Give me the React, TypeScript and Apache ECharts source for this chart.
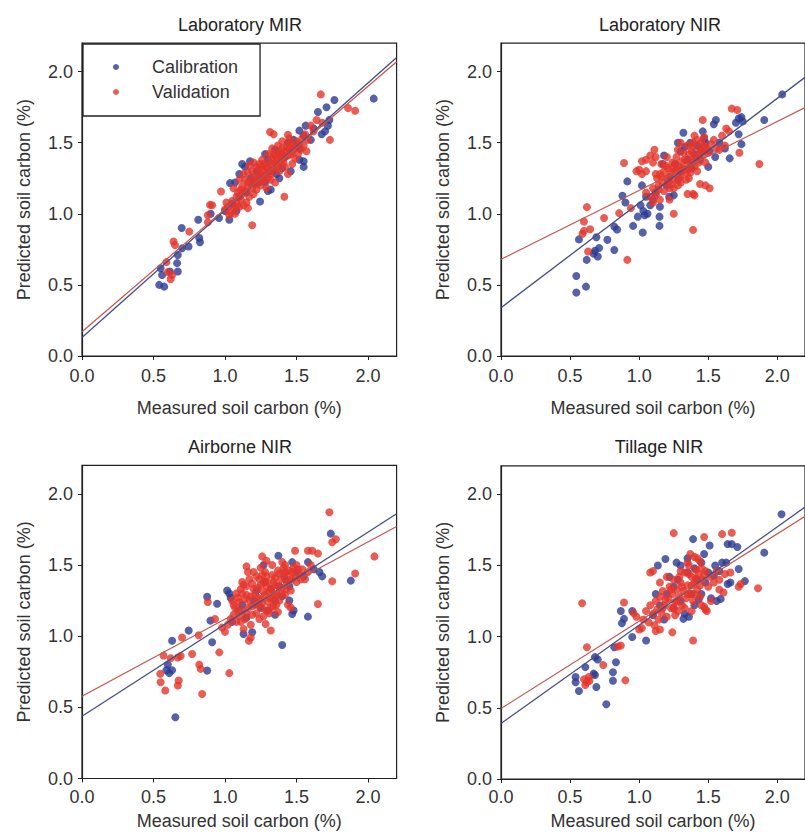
import React, { useEffect, useRef } from "react";
import * as echarts from "echarts";

const panelTitles = ["Laboratory MIR", "Laboratory NIR", "Airborne NIR", "Tillage NIR"];
const tickValues = [0, 0.5, 1.0, 1.5, 2.0];
const xAxisName = "Measured soil carbon (%)";
const yAxisName = "Predicted soil carbon (%)";
const seriesNames = ["Calibration", "Validation"];

// regression lines: [y at x=0, y at x=2.2]
const calibFit = [[0.13, 2.1], [0.34, 1.96], [0.437, 1.86], [0.39, 1.91]];
const validFit = [[0.17, 2.07], [0.68, 1.747], [0.578, 1.77], [0.495, 1.845]];

const calib1 = [
  [2.04, 1.81], [1.765, 1.8], [1.71, 1.75], [1.65, 1.716], [1.72, 1.62], [1.7, 1.58], [1.73, 1.66],
  [1.564, 1.62], [1.52, 1.585], [1.676, 1.56], [1.62, 1.6], [1.55, 1.37], [1.55, 1.33], [1.52, 1.38],
  [1.46, 1.3], [1.6, 1.52], [1.55, 1.55], [1.5, 1.48], [1.48, 1.52], [1.45, 1.45], [1.42, 1.4],
  [1.4, 1.32], [1.38, 1.25], [1.36, 1.28], [1.32, 1.17], [1.3, 1.16], [1.28, 1.22], [1.23, 1.216],
  [1.245, 1.087], [1.35, 1.45], [1.3, 1.38], [1.28, 1.42], [1.22, 1.3], [1.2, 1.22], [1.175, 1.37],
  [1.14, 1.33], [1.12, 1.35], [1.1, 1.28], [1.15, 1.15], [1.1, 1.12], [1.035, 1.216], [1.05, 1.07],
  [1.08, 1.02], [1.07, 1.22], [1.03, 0.958], [1.0, 1.02], [0.958, 0.97], [0.9, 1.0], [0.813, 0.958],
  [0.82, 0.83], [0.825, 0.8], [0.745, 0.77], [0.697, 0.9], [0.7, 0.757], [0.67, 0.71], [0.665, 0.653],
  [0.67, 0.594], [0.55, 0.617], [0.56, 0.57], [0.54, 0.5], [0.575, 0.488], [0.615, 0.594], [1.4, 1.42],
  [1.44, 1.5], [1.52, 1.46], [1.33, 1.3], [1.18, 1.25], [1.24, 1.26]
];
const valid1 = [
  [1.67, 1.84], [1.86, 1.744], [1.91, 1.725], [1.734, 1.52], [1.315, 1.575], [1.34, 1.56], [1.415, 1.12],
  [1.19, 0.92], [0.972, 1.157], [0.895, 1.063], [0.91, 1.06], [0.88, 0.99], [0.88, 0.94], [0.75, 0.875],
  [0.64, 0.805], [0.65, 0.78], [0.59, 0.66], [0.6, 0.59], [0.62, 0.54], [0.63, 0.57], [1.16, 1.04],
  [1.44, 1.556], [1.57, 1.44], [1.6, 1.62], [1.64, 1.66], [1.68, 1.64], [1.62, 1.58],
  [1.0, 1.03], [1.02, 1.05], [1.04, 1.01], [1.06, 1.04], [1.08, 1.08], [1.1, 1.05], [1.11, 1.1],
  [1.09, 1.15], [1.12, 1.19], [1.14, 1.24], [1.13, 1.28], [1.16, 1.29], [1.18, 1.22], [1.2, 1.26],
  [1.22, 1.33], [1.24, 1.29], [1.26, 1.31], [1.28, 1.34], [1.3, 1.32], [1.31, 1.36], [1.33, 1.39],
  [1.35, 1.41], [1.36, 1.35], [1.38, 1.43], [1.4, 1.46], [1.41, 1.39], [1.43, 1.44], [1.45, 1.49],
  [1.46, 1.42], [1.48, 1.46], [1.5, 1.51], [1.52, 1.49], [1.54, 1.53], [1.56, 1.56], [1.3, 1.25],
  [1.32, 1.28], [1.34, 1.31], [1.37, 1.33], [1.39, 1.37], [1.27, 1.23], [1.25, 1.2], [1.22, 1.17],
  [1.2, 1.14], [1.17, 1.12], [1.15, 1.08], [1.13, 1.06], [1.03, 0.99], [1.07, 1.0], [1.26, 1.38],
  [1.2, 1.36], [1.17, 1.34], [1.1, 1.24], [1.06, 1.18], [1.08, 1.12], [1.44, 1.28], [1.47, 1.35],
  [1.51, 1.42], [1.42, 1.33], [1.35, 1.22], [1.29, 1.18], [1.23, 1.23], [1.28, 1.27], [1.33, 1.34],
  [1.36, 1.38], [1.39, 1.4], [1.41, 1.36], [1.44, 1.41], [1.47, 1.44], [1.49, 1.39], [1.19, 1.18],
  [1.16, 1.19], [1.12, 1.14], [1.24, 1.35], [1.3, 1.42], [1.33, 1.46], [1.37, 1.48], [1.4, 1.51],
  [1.45, 1.53], [1.38, 1.3], [1.32, 1.24], [1.26, 1.26], [1.21, 1.21], [1.14, 1.16], [1.05, 1.09],
  [1.01, 1.08], [1.55, 1.48], [1.58, 1.52], [1.53, 1.45], [1.11, 1.17], [1.19, 1.3], [1.23, 1.26],
  [1.27, 1.35], [1.31, 1.3], [1.35, 1.36], [1.39, 1.44], [1.43, 1.47], [1.47, 1.48], [1.29, 1.29],
  [1.34, 1.42], [1.4, 1.41], [1.25, 1.33], [1.16, 1.22], [1.08, 1.05]
];

const calib2 = [
  [2.035, 1.84], [1.905, 1.66], [1.72, 1.67], [1.75, 1.65], [1.7, 1.64], [1.74, 1.68], [1.74, 1.49],
  [1.72, 1.56], [1.655, 1.39], [1.555, 1.66], [1.54, 1.63], [1.32, 1.57], [1.47, 1.53], [1.51, 1.44],
  [1.55, 1.4], [1.5, 1.33], [1.33, 1.47], [1.37, 1.5], [0.914, 1.228], [0.879, 1.127], [0.9, 1.08],
  [1.01, 1.06], [1.03, 1.02], [1.06, 1.0], [1.04, 0.99], [1.02, 1.2], [1.147, 0.98], [1.147, 0.915],
  [1.026, 0.868], [0.956, 0.915], [0.82, 0.91], [0.84, 0.89], [0.77, 0.817], [0.82, 0.746], [0.69, 0.835],
  [0.71, 0.76], [0.68, 0.74], [0.7, 0.7], [0.67, 0.72], [0.62, 0.676], [0.564, 0.82], [0.545, 0.563],
  [0.615, 0.488], [0.545, 0.446], [1.217, 1.12], [1.25, 1.13], [1.17, 1.35], [1.18, 1.41], [1.08, 1.06],
  [1.1, 1.1], [1.12, 1.15], [1.2, 1.2], [1.28, 1.24], [1.3, 1.3], [1.35, 1.38], [1.4, 1.42],
  [1.42, 1.48], [1.45, 1.45], [1.48, 1.5], [1.58, 1.5], [1.62, 1.46], [1.26, 1.35], [1.22, 1.26],
  [1.38, 1.32], [1.44, 1.38], [1.15, 1.05], [1.05, 1.12], [0.99, 0.98], [1.3, 1.44], [1.46, 1.58],
  [1.28, 1.5]
];
const valid2 = [
  [1.67, 1.74], [1.71, 1.73], [1.87, 1.35], [1.725, 1.43], [1.46, 1.66], [1.63, 1.6], [1.65, 1.58],
  [1.6, 1.55], [1.58, 1.45], [1.62, 1.48], [1.51, 1.18], [1.48, 1.2], [1.44, 1.21], [1.39, 1.14],
  [1.35, 1.14], [1.4, 1.13], [1.39, 0.887], [1.25, 1.0], [0.89, 1.357], [0.914, 0.676], [0.94, 1.04],
  [0.855, 1.005], [0.746, 0.97], [0.622, 1.047], [0.6, 0.946], [0.645, 0.892], [0.59, 0.86], [0.6, 0.88],
  [0.63, 0.735], [0.98, 1.3], [1.0, 1.31], [1.02, 1.28], [1.02, 1.37], [1.05, 1.38], [1.08, 1.41],
  [1.11, 1.45], [1.1, 1.36], [1.12, 1.4], [1.05, 1.15], [1.08, 1.12], [1.1, 1.18], [1.12, 1.13],
  [1.14, 1.2], [1.13, 1.25], [1.15, 1.28], [1.17, 1.22], [1.18, 1.16], [1.2, 1.25], [1.21, 1.32],
  [1.22, 1.18], [1.23, 1.28], [1.24, 1.36], [1.25, 1.24], [1.26, 1.3], [1.27, 1.4], [1.28, 1.2],
  [1.29, 1.33], [1.3, 1.27], [1.31, 1.37], [1.32, 1.43], [1.33, 1.31], [1.34, 1.24], [1.35, 1.35],
  [1.36, 1.42], [1.37, 1.29], [1.38, 1.38], [1.39, 1.47], [1.4, 1.33], [1.41, 1.4], [1.42, 1.52],
  [1.43, 1.36], [1.44, 1.45], [1.45, 1.5], [1.46, 1.41], [1.48, 1.47], [1.5, 1.43], [1.52, 1.49],
  [1.54, 1.52], [1.56, 1.46], [1.18, 1.3], [1.16, 1.35], [1.2, 1.4], [1.28, 1.45], [1.3, 1.5],
  [1.35, 1.48], [1.25, 1.18], [1.22, 1.1], [1.15, 1.1], [1.1, 1.08], [1.3, 1.22], [1.36, 1.25],
  [1.42, 1.3], [1.48, 1.36], [1.05, 1.3], [1.12, 1.28], [1.4, 1.55], [1.47, 1.54], [1.16, 1.26],
  [1.19, 1.34], [1.23, 1.21], [1.26, 1.35], [1.29, 1.25], [1.31, 1.32], [1.33, 1.38], [1.36, 1.32],
  [1.38, 1.44], [1.4, 1.37], [1.43, 1.41], [1.45, 1.44], [1.47, 1.48], [1.49, 1.45], [1.34, 1.29],
  [1.27, 1.31], [1.21, 1.22], [1.14, 1.17], [1.24, 1.32], [1.39, 1.5]
];

const calib3 = [
  [0.653, 0.43], [1.74, 1.72], [1.88, 1.39], [1.66, 1.45], [1.68, 1.42], [1.58, 1.52], [1.47, 1.52],
  [1.373, 1.565], [1.27, 1.5], [1.015, 1.32], [1.03, 1.3], [1.04, 1.27], [0.875, 1.277], [0.945, 1.228],
  [0.898, 1.109], [0.746, 1.039], [0.63, 0.968], [0.91, 0.957], [1.13, 1.015], [1.19, 1.027], [1.4, 0.938],
  [1.58, 1.137], [1.47, 1.155], [1.48, 1.18], [0.875, 0.758], [0.6, 0.8], [0.61, 0.74], [0.63, 0.76],
  [0.59, 0.76], [1.2, 1.25], [1.25, 1.2], [1.3, 1.18], [1.35, 1.25], [1.42, 1.4], [1.38, 1.35],
  [1.32, 1.33], [1.15, 1.13], [1.1, 1.18], [1.05, 1.1], [1.45, 1.35], [1.55, 1.42], [1.5, 1.45],
  [1.62, 1.47], [1.28, 1.38], [1.22, 1.32], [1.12, 1.22], [1.4, 1.28], [1.35, 1.15], [1.45, 1.25]
];
const valid3 = [
  [1.73, 1.87], [2.045, 1.56], [1.91, 1.44], [1.775, 1.68], [1.75, 1.66], [1.75, 1.385], [1.65, 1.226],
  [1.49, 1.6], [1.58, 1.6], [1.61, 1.6], [1.65, 1.58], [1.26, 1.56], [1.29, 1.53], [1.15, 1.49],
  [1.03, 0.74], [0.84, 0.594], [0.82, 0.8], [0.83, 0.77], [0.7, 0.99], [0.77, 0.875], [0.816, 1.006],
  [0.96, 0.886], [0.57, 0.863], [0.547, 0.735], [0.55, 0.676], [0.582, 0.618], [0.676, 0.688],
  [0.67, 0.653], [0.62, 0.845], [0.67, 0.85], [0.69, 0.86], [1.167, 0.968], [1.18, 0.99], [1.32, 1.04],
  [1.284, 1.085], [1.46, 1.2], [1.44, 1.22], [0.88, 1.24], [0.93, 1.12], [0.98, 1.06], [1.0, 1.03],
  [1.02, 1.08], [1.04, 1.12], [1.06, 1.15], [1.08, 1.1], [1.07, 1.2], [1.1, 1.14], [1.1, 1.24],
  [1.12, 1.18], [1.12, 1.3], [1.14, 1.12], [1.14, 1.26], [1.15, 1.35], [1.16, 1.2], [1.17, 1.4],
  [1.18, 1.28], [1.19, 1.15], [1.2, 1.33], [1.21, 1.22], [1.22, 1.42], [1.23, 1.27], [1.24, 1.12],
  [1.25, 1.36], [1.26, 1.24], [1.27, 1.31], [1.28, 1.45], [1.29, 1.18], [1.3, 1.38], [1.31, 1.27],
  [1.32, 1.33], [1.33, 1.43], [1.34, 1.21], [1.35, 1.36], [1.36, 1.3], [1.37, 1.46], [1.38, 1.25],
  [1.39, 1.4], [1.4, 1.34], [1.41, 1.48], [1.42, 1.29], [1.43, 1.38], [1.44, 1.44], [1.46, 1.32],
  [1.47, 1.4], [1.48, 1.48], [1.5, 1.38], [1.52, 1.43], [1.54, 1.47], [1.56, 1.4], [1.58, 1.45],
  [1.6, 1.5], [1.13, 1.05], [1.18, 1.08], [1.22, 1.16], [1.27, 1.14], [1.32, 1.2], [1.37, 1.17],
  [1.2, 1.45], [1.25, 1.48], [1.33, 1.5], [1.4, 1.52], [1.12, 1.38], [1.08, 1.3], [1.05, 1.25],
  [1.16, 1.45], [1.24, 1.4], [1.3, 1.24], [1.35, 1.28], [1.26, 1.2], [1.29, 1.35], [1.45, 1.46],
  [1.5, 1.5], [1.42, 1.5], [1.06, 1.22], [1.09, 1.27], [1.11, 1.33], [1.13, 1.36], [1.15, 1.16],
  [1.17, 1.25], [1.19, 1.37], [1.21, 1.29], [1.23, 1.34], [1.25, 1.26], [1.27, 1.38], [1.29, 1.42],
  [1.31, 1.31], [1.33, 1.26], [1.35, 1.41], [1.37, 1.35], [1.39, 1.3], [1.41, 1.43], [1.43, 1.33],
  [1.45, 1.39], [1.47, 1.45], [1.49, 1.42], [1.51, 1.47], [1.53, 1.4], [1.23, 1.22], [1.19, 1.21],
  [1.15, 1.29], [1.28, 1.29], [1.34, 1.38], [1.38, 1.44], [1.42, 1.45], [1.26, 1.43], [1.36, 1.22],
  [1.31, 1.16], [1.11, 1.1], [1.09, 1.18]
];

const calib4 = [
  [2.03, 1.86], [1.905, 1.59], [1.64, 1.65], [1.67, 1.65], [1.71, 1.63], [1.51, 1.64], [1.39, 1.685],
  [1.55, 1.5], [1.58, 1.46], [1.54, 1.43], [1.63, 1.52], [1.72, 1.475], [1.64, 1.37], [1.66, 1.38],
  [1.765, 1.39], [1.19, 1.545], [1.135, 1.5], [1.59, 1.265], [1.56, 1.25], [1.52, 1.27], [1.33, 1.16],
  [1.32, 1.125], [1.36, 1.14], [1.05, 0.973], [0.95, 0.997], [0.89, 1.125], [0.875, 1.094], [0.867, 1.18],
  [0.82, 0.926], [0.832, 0.82], [0.81, 0.75], [0.81, 0.69], [0.762, 0.525], [0.69, 0.646], [0.68, 0.856],
  [0.7, 0.84], [0.67, 0.74], [0.68, 0.73], [0.61, 0.786], [0.54, 0.716], [0.54, 0.68], [0.564, 0.618],
  [0.95, 1.18], [1.2, 1.3], [1.25, 1.35], [1.28, 1.4], [1.22, 1.42], [1.3, 1.5], [1.35, 1.45],
  [1.4, 1.48], [1.45, 1.52], [1.42, 1.4], [1.48, 1.38], [1.38, 1.3], [1.3, 1.25], [1.25, 1.2],
  [1.15, 1.22], [1.1, 1.15], [1.18, 1.12], [1.4, 1.22], [1.45, 1.3], [1.5, 1.45], [1.47, 1.58],
  [1.27, 1.52], [1.35, 1.55], [1.12, 1.3], [1.6, 1.52], [1.43, 1.26]
];
const valid4 = [
  [1.25, 1.727], [1.47, 1.7], [1.6, 1.72], [1.67, 1.73], [1.86, 1.34], [1.735, 1.37], [1.72, 1.35],
  [0.587, 1.235], [0.622, 0.926], [0.74, 0.8], [0.9, 0.693], [0.867, 0.938], [0.845, 0.93], [0.6, 0.7],
  [0.62, 0.68], [0.635, 0.716], [0.61, 0.66], [0.64, 0.69], [0.89, 1.24], [1.39, 0.973], [1.24, 1.03],
  [1.12, 1.04], [1.15, 1.05], [1.08, 1.45], [1.1, 1.46], [1.37, 1.58], [1.4, 1.56], [1.44, 1.53],
  [1.47, 1.21], [1.48, 1.19], [1.49, 1.18], [1.58, 1.33], [1.61, 1.31], [1.66, 1.45], [0.98, 1.14],
  [0.96, 1.165], [1.0, 1.05], [1.02, 1.06], [1.03, 1.12], [1.05, 1.18], [1.07, 1.1], [1.08, 1.22],
  [1.1, 1.16], [1.11, 1.08], [1.12, 1.25], [1.13, 1.19], [1.14, 1.12], [1.15, 1.28], [1.16, 1.17],
  [1.17, 1.32], [1.18, 1.22], [1.2, 1.14], [1.21, 1.27], [1.22, 1.35], [1.23, 1.2], [1.24, 1.3],
  [1.25, 1.4], [1.26, 1.24], [1.27, 1.33], [1.28, 1.18], [1.29, 1.28], [1.3, 1.38], [1.31, 1.22],
  [1.32, 1.32], [1.33, 1.45], [1.34, 1.27], [1.35, 1.36], [1.36, 1.5], [1.37, 1.3], [1.38, 1.42],
  [1.39, 1.25], [1.4, 1.38], [1.41, 1.47], [1.42, 1.33], [1.43, 1.44], [1.44, 1.28], [1.46, 1.4],
  [1.48, 1.46], [1.5, 1.35], [1.52, 1.42], [1.54, 1.38], [1.56, 1.46], [1.58, 1.4], [1.62, 1.44],
  [1.15, 1.38], [1.2, 1.42], [1.3, 1.46], [1.35, 1.52], [1.42, 1.55], [1.45, 1.48], [1.26, 1.15],
  [1.33, 1.2], [1.38, 1.18], [1.45, 1.22], [1.52, 1.25], [1.19, 1.26], [1.23, 1.33], [1.27, 1.25],
  [1.31, 1.35], [1.35, 1.3], [1.38, 1.36], [1.41, 1.41], [1.44, 1.36], [1.47, 1.43], [1.29, 1.42],
  [1.25, 1.2], [1.17, 1.2], [1.4, 1.3], [1.36, 1.44]
];

const calibData = [calib1, calib2, calib3, calib4];
const validData = [valid1, valid2, valid3, valid4];

const FONT = '"Liberation Sans", Arial, Helvetica, sans-serif';
const BLUE = "#2b3a92";
const RED = "#e5342b";
const BLUE_LINE = "#444d88";
const RED_LINE = "#c4544c";
const TEXT = "#333";

const layouts = [
  { left: 82, top: 43.2, width: 314.6, height: 312.8, lm: 11, ng: 43, tx: 240, ty: 25 },
  { left: 501, top: 43.2, width: 314.6, height: 312.8, lm: 11, ng: 43, tx: 660, ty: 25 },
  { left: 82, top: 465.3, width: 314.6, height: 313.2, lm: 9, ng: 33, tx: 240, ty: 447 },
  { left: 501, top: 465.8, width: 314.6, height: 313.2, lm: 9, ng: 33, tx: 659, ty: 447 }
];

export default function App() {
  const ref = useRef<HTMLDivElement>(null);
  useEffect(() => {
    if (!ref.current) return;
    const chart = echarts.init(ref.current, undefined, { renderer: "svg" });
    const grids: any[] = [];
    const xAxes: any[] = [];
    const yAxes: any[] = [];
    const series: any[] = [];
    const graphics: any[] = [];
    layouts.forEach((L, i) => {
      grids.push({
        left: L.left, top: L.top, width: L.width, height: L.height,
        show: true, borderColor: "#222", borderWidth: 1.2, backgroundColor: "transparent"
      });
      const common = {
        gridIndex: i, type: "value", min: 0, max: 2.2, interval: 0.5,
        splitLine: { show: false },
        axisLine: { show: true, onZero: false, lineStyle: { color: "#222", width: 1.2 } },
        axisTick: { show: true, inside: false, length: 4, customValues: tickValues, lineStyle: { color: "#222", width: 1 } },
        nameLocation: "middle",
        nameTextStyle: { fontSize: 18, fontFamily: FONT, color: TEXT }
      };
      xAxes.push({
        ...common,
        name: xAxisName,
        nameGap: L.ng,
        axisLabel: { customValues: tickValues, margin: L.lm, fontSize: 18, fontFamily: FONT, color: TEXT, formatter: (v: number) => v.toFixed(1) }
      });
      yAxes.push({
        ...common,
        name: yAxisName,
        nameGap: 49.5,
        axisLabel: { customValues: tickValues, margin: 9, fontSize: 18, fontFamily: FONT, color: TEXT, formatter: (v: number) => v.toFixed(1) }
      });
      series.push({
        type: "scatter", name: seriesNames[0], xAxisIndex: i, yAxisIndex: i,
        data: calibData[i], symbol: "circle", symbolSize: 8, z: 2,
        itemStyle: { color: BLUE }
      });
      series.push({
        type: "scatter", name: seriesNames[1], xAxisIndex: i, yAxisIndex: i,
        data: validData[i], symbol: "circle", symbolSize: 8, z: 2,
        itemStyle: { color: RED }
      });
      series.push({
        type: "line", name: "calibFit" + i, xAxisIndex: i, yAxisIndex: i, z: 4,
        data: [[0, calibFit[i][0]], [2.2, calibFit[i][1]]], symbol: "none",
        lineStyle: { color: BLUE_LINE, width: 1.3 }, silent: true
      });
      series.push({
        type: "line", name: "validFit" + i, xAxisIndex: i, yAxisIndex: i, z: 4,
        data: [[0, validFit[i][0]], [2.2, validFit[i][1]]], symbol: "none",
        lineStyle: { color: RED_LINE, width: 1.2 }, silent: true
      });
      graphics.push({
        type: "text", x: L.tx, y: L.ty,
        style: { text: panelTitles[i], fontSize: 18, fontWeight: "normal", fontFamily: FONT, fill: "#222", align: "center", verticalAlign: "middle" }
      });
    });
    chart.setOption({
      animation: false,
      backgroundColor: "#fff",
      grid: grids,
      xAxis: xAxes,
      yAxis: yAxes,
      series,
      graphic: graphics,
      legend: {
        data: seriesNames,
        left: 83, top: 44, orient: "vertical",
        padding: [13, 22, 14, 30],
        itemGap: 5, itemWidth: 6, itemHeight: 6, icon: "circle",
        selectedMode: false,
        backgroundColor: "#fff", borderColor: "#222", borderWidth: 1.3,
        textStyle: { fontSize: 18, lineHeight: 20, fontFamily: FONT, color: TEXT, padding: [0, 0, 0, 28] }
      }
    });
    return () => chart.dispose();
  }, []);
  return (
    <div
      ref={ref}
      style={{ position: "absolute", left: 0, top: 0, width: 805, height: 836, overflow: "hidden" }}
    />
  );
}
